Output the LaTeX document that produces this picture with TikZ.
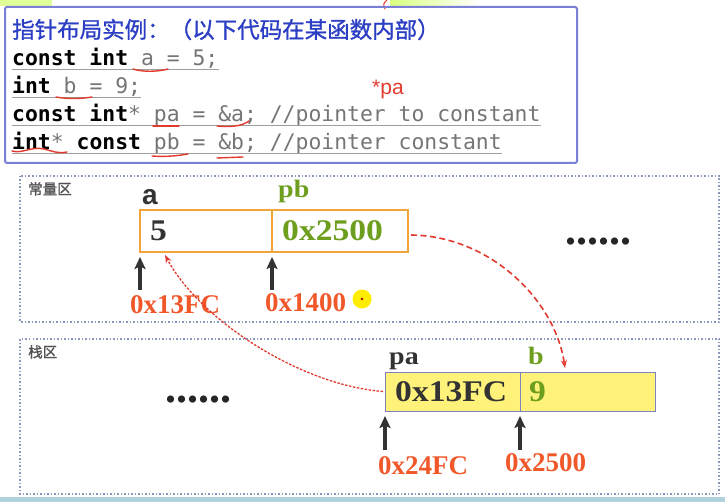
\documentclass[tikz,border=0pt]{standalone}
\usepackage{fontspec}
\setmainfont{Liberation Serif}
\setsansfont{Liberation Sans}
\setmonofont{DejaVu Sans Mono}
\newfontfamily\cjk[FakeBold=1.2]{Noto Sans CJK SC}
\newfontfamily\slide[FakeStretch=1.12]{Liberation Serif}
\usepackage{tikz}
\usetikzlibrary{arrows.meta,positioning}

\definecolor{frameblue}{HTML}{7B7FD6}
\definecolor{titleblue}{HTML}{2B3EC4}
\definecolor{codegray}{HTML}{757575}
\definecolor{areagray}{HTML}{8C98BE}
\definecolor{cellorange}{HTML}{F2A33A}
\definecolor{valgreen}{HTML}{6E9E1E}
\definecolor{addrred}{HTML}{F0582A}
\definecolor{darktext}{HTML}{333333}
\definecolor{cellyellow}{HTML}{FFF27A}
\definecolor{cellborder}{HTML}{7E80C0}
\definecolor{handred}{HTML}{E23A2E}

\newcommand{\kw}[1]{\textbf{\color{black}#1}}

\begin{document}
\begin{tikzpicture}[
    x=1pt, y=-1pt,
    codeline/.style={anchor=base west, inner sep=0pt, text=codegray, font=\ttfamily\fontsize{21.4}{25}\selectfont},
    uline/.style={codegray!70, line width=1pt},
    hand/.style={handred, line width=1.4pt, line cap=round},
    memarea/.style={draw=areagray, line width=1.5pt, dotted},
    arealabel/.style={anchor=north west, inner sep=0pt, text=darktext!85, font=\cjk\fontsize{14.5}{16}\selectfont},
    constcell/.style={draw=cellorange, line width=2pt, fill=white, anchor=north west, inner sep=0pt, outer sep=0pt, minimum height=42pt},
    stackcell/.style={draw=cellborder, line width=1pt, fill=cellyellow, anchor=north west, inner sep=0pt, outer sep=0pt, minimum height=39pt},
    val/.style={anchor=west, inner sep=0pt, font=\slide\bfseries\fontsize{30}{32}\selectfont},
    varname/.style={anchor=base west, inner sep=0pt, font=\slide\bfseries\fontsize{25}{28}\selectfont},
    addr/.style={anchor=base west, inner sep=0pt, text=addrred, font=\bfseries\fontsize{27}{30}\selectfont},
    moredots/.style={anchor=base, inner sep=0pt, text=black!85, font=\bfseries\fontsize{44}{44}\selectfont},
    uparr/.style={-{Stealth[length=12pt, width=11pt, inset=2.5pt]}, darktext, line width=3.2pt, shorten >=5pt},
    ptr/.style={-{Stealth[length=8pt, width=6pt]}, handred, line width=1.6pt},
  ]
  \useasboundingbox (0,0) rectangle (725,502);

  % slide remnants at the edges
  \fill[green!30!yellow!40] (0,0) rectangle (52,6);
  \shade[left color=green!30!yellow!50, right color=white] (390,0) rectangle (480,6);
  \draw[hand, line width=1pt] (387,0) .. controls (383,4) .. (385,9);
  \fill[cyan!25!teal!35] (0,497) rectangle (725,502);

  % code box
  \draw[frameblue, line width=2pt, rounded corners=2pt] (5,7) rectangle (577,163);
  \node[anchor=base west, inner sep=0pt, text=titleblue, font=\cjk\fontsize{22.5}{26}\selectfont] (title) at (12,38) {指针布局实例：（以下代码在某函数内部）};
  \node[codeline] (l1) at (12,66) {\kw{const int} a = 5;};
  \node[codeline] (l2) at (12,94) {\kw{int} b = 9;};
  \node[codeline] (l3) at (12,122) {\kw{const int}* pa = \&a; //pointer to constant};
  \node[codeline] (l4) at (12,150) {\kw{int}* \kw{const} pb = \&b; //pointer constant};
  \foreach \l in {l1,l2,l3,l4}
    \draw[uline] ([yshift=-4pt]\l.base west) -- ([yshift=-4pt]\l.base east);

  % red pen marks
  \draw[hand] (133,69) .. controls (142,72) and (157,72) .. (168,69);
  \draw[hand] (56,97) .. controls (66,99) and (81,99) .. (92,97);
  \draw[hand] (153,126) -- (179,126);
  \draw[hand] (217,126) .. controls (228,127) and (241,127) .. (249,121);
  \draw[hand] (12,151) .. controls (22,154) and (32,146) .. (44,149) .. controls (52,151) and (58,154) .. (67,152);
  \draw[hand] (152,156) .. controls (164,157) and (177,156) .. (188,154);
  \draw[hand] (217,158) -- (243,157);
  \node[anchor=base west, inner sep=0pt, text=handred, font=\sffamily\fontsize{21}{22}\selectfont] (star) at (372,95) {*pa};

  % constant area
  \draw[memarea] (20,176) rectangle (719,322);
  \node[arealabel] (constlbl) at (28,182) {常量区};
  \node[constcell, minimum width=132pt] (ca) at (140,210) {};
  \node[constcell, minimum width=136pt] (cpb) at (ca.north east) {};
  \node[val, text=darktext] (v5) at ([xshift=10pt]ca.west) {5};
  \node[val, text=valgreen] (vpb) at ([xshift=10pt]cpb.west) {0x2500};
  \node[anchor=base west, inner sep=0pt, text=darktext, font=\sffamily\bfseries\fontsize{28}{30}\selectfont] (na) at (142,205) {a};
  \node[varname, text=valgreen] (npb) at (278,198) {pb};
  \node[moredots] (cdots) at (598,245) {......};
  \coordinate (ta) at ([yshift=-38pt]ca.south west);
  \coordinate (tpb) at ([yshift=-38pt]cpb.south west);
  \draw[uparr] (ta) -- (ca.south west);
  \draw[uparr] (tpb) -- (cpb.south west);
  \node[addr] (aa) at (130,314) {0x13FC};
  \node[addr] (apb) at (265,312) {0x1400};
  \fill[yellow!95!orange] (362,299) circle (9.5);
  \fill[red!70!black] (362,299) circle (1.3);

  % stack area
  \draw[memarea] (20,339) rectangle (719,494);
  \node[arealabel] (stacklbl) at (28,345) {栈区};
  \node[stackcell, minimum width=135pt] (cpa) at (385,372) {};
  \node[stackcell, minimum width=135pt] (cb) at (cpa.north east) {};
  \node[val, text=darktext] (vpa) at ([xshift=10pt]cpa.west) {0x13FC};
  \node[val, text=valgreen] (vb) at ([xshift=9pt]cb.west) {9};
  \node[varname, text=darktext] (npa) at (389,364) {pa};
  \node[varname, text=valgreen] (nb) at (528,364) {b};
  \node[moredots] (sdots) at (198,402) {......};
  \coordinate (tpa) at ([yshift=-39pt]cpa.south west);
  \coordinate (tb) at ([yshift=-39pt]cb.south west);
  \draw[uparr] (tpa) -- (cpa.south west);
  \draw[uparr] (tb) -- (cb.south west);
  \node[addr] (apa) at (378,474) {0x24FC};
  \node[addr] (ab) at (505,471) {0x2500};

  % pointers
  \draw[ptr, dash pattern=on 6pt off 3.5pt] ([xshift=3pt,yshift=-4pt]cpb.east) .. controls (490,236) and (555,300) .. ([xshift=45pt,yshift=4pt]cb.north west);
  \draw[ptr, line width=1.3pt, dash pattern=on 2.5pt off 1.5pt] ([xshift=-2pt]cpa.west) .. controls (300,385) and (200,320) .. ([xshift=25pt,yshift=-3pt]ca.south west);
\end{tikzpicture}
\end{document}
